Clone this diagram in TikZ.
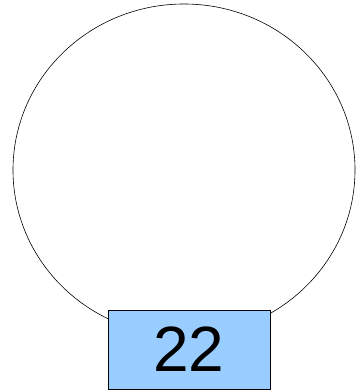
\documentclass[tikz,border=0pt]{standalone}
\usepackage{fontspec}
\setmainfont{Liberation Sans}
\usetikzlibrary{shapes.geometric}
\definecolor{nodeblue}{HTML}{99CCFF}
\tikzset{
  ring/.style={draw=black, ellipse, line width=0.6pt, inner sep=0pt},
  numbox/.style={draw=black, fill=nodeblue, line width=0.6pt, inner sep=0pt,
                 font=\fontsize{64}{64}\selectfont},
}
\begin{document}
\begin{tikzpicture}[x=1pt, y=-1pt]
  \useasboundingbox (0,0) rectangle (356,390);
  %% ring
  \node[ring, minimum width=342pt, minimum height=332pt] (loop) at (184,170) {};
  %% number box
  \node[numbox, minimum width=162pt, minimum height=79pt] (num) at (189,349.5) {22};
\end{tikzpicture}
\end{document}
